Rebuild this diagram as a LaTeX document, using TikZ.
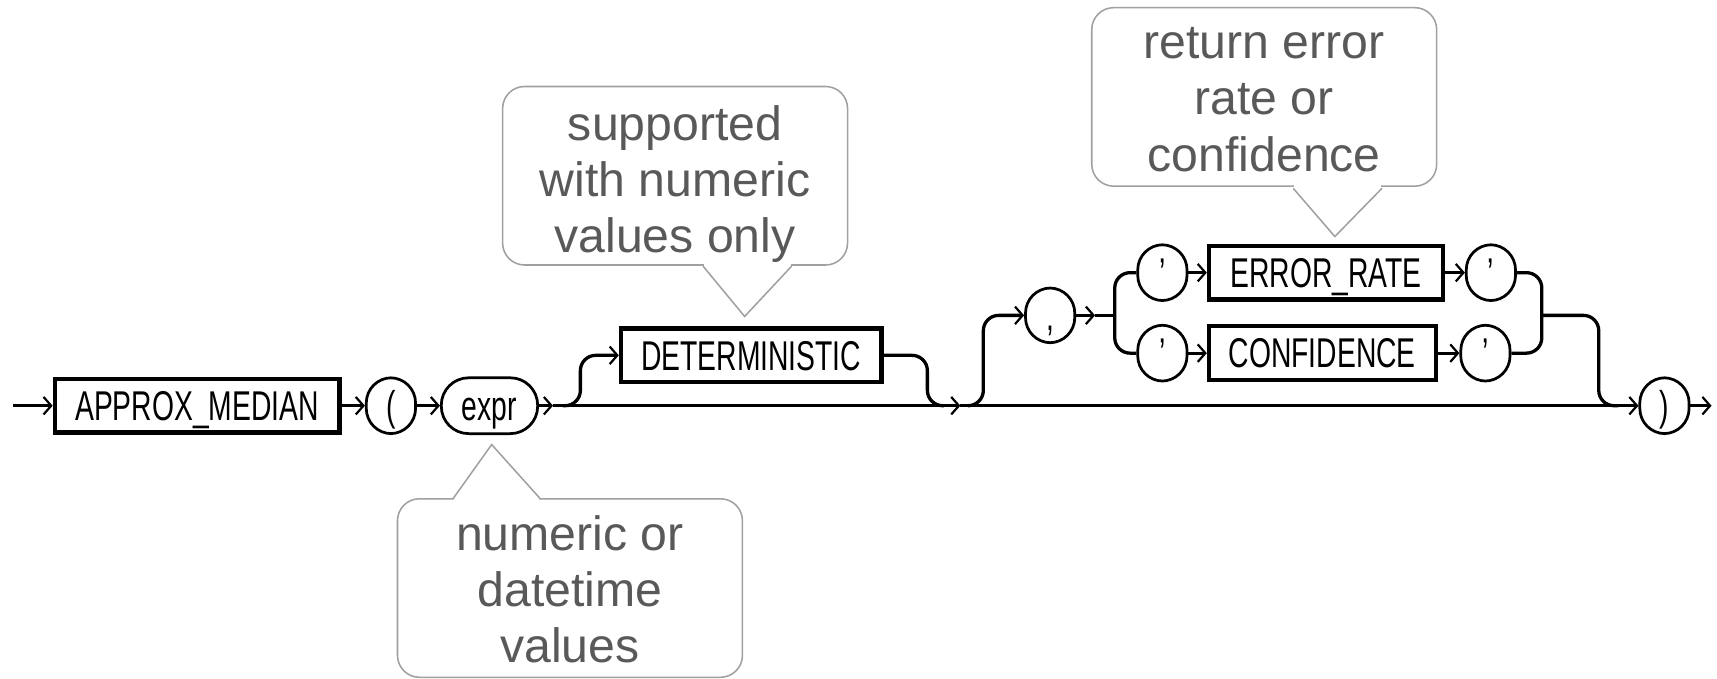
\documentclass[tikz,border=0pt]{standalone}
\usepackage{fontspec}
\setmainfont{Liberation Sans}
\newfontfamily\railfont[FakeStretch=0.68]{Liberation Sans}
\usetikzlibrary{arrows.meta}
\definecolor{notetext}{RGB}{89,89,89}
\definecolor{noteline}{RGB}{160,160,160}
\begin{document}
\begin{tikzpicture}[x=1pt,y=-1pt,
  rail/.style={line width=3pt},
  arr/.style={rail,-{Straight Barb[length=7pt,width=16pt,line width=2pt]}},
  railtext/.style={font=\railfont\fontsize{38}{40}\selectfont,text height=27pt,text depth=0pt,inner sep=0pt},
  kw/.style={railtext,draw,line width=3.8pt,minimum height=49pt},
  tok/.style={railtext,draw,line width=2.5pt,rounded corners=23pt,minimum width=45pt,minimum height=51pt},
  note/.style={draw=noteline,line width=1.4pt,rounded corners=20pt,fill=white,minimum width=315pt,minimum height=163pt,inner sep=0pt},
  notetxt/.style={text=notetext,font=\fontsize{44}{51}\selectfont,align=center,inner sep=0pt},
  pointer/.style={draw=noteline,line width=1.4pt,line join=miter}
]
\useasboundingbox (0,0) rectangle (1568,620);

% --- syntax elements ---
\node[kw,minimum width=260pt] (approx) at (180,370.5) {APPROX\_MEDIAN};
\node[tok] (lparen) at (357,370.5) {(};
\node[tok,rounded corners=25pt,minimum width=88pt] (expr) at (447,370.5) {expr};
\node[kw,minimum width=238pt] (determ) at (686,324.5) {DETERMINISTIC};
\node[tok,minimum height=50pt] (comma) at (959,288) {,};
\node[tok] (q1) at (1061.5,249) {’};
\node[kw,minimum width=214pt] (errrate) at (1211,249) {ERROR\_RATE};
\node[tok] (q2) at (1361.5,249) {’};
\node[tok] (q3) at (1061.5,322.5) {’};
\node[kw,minimum width=207pt] (confid) at (1207.5,322.5) {CONFIDENCE};
\node[tok] (q4) at (1356.5,322.5) {’};
\node[tok] (rparen) at (1520,370.5) {)};

% --- points on the rails ---
\coordinate (start)  at (12,370.5);
\coordinate (m1)     at (505,370.5);
\coordinate (din)    at (514,370.5);
\coordinate (dout)   at (862,370.5);
\coordinate (m2)     at (877,370.5);
\coordinate (cin)    at (884,370.5);
\coordinate (cmid)   at (1000,288);
\coordinate (split)  at (1018,288);
\coordinate (join)   at (1408,288);
\coordinate (rin)    at (1478,370.5);
\coordinate (finish) at (1563,370.5);

% --- main rail ---
\draw[arr] (start) -- (approx.west);
\draw[arr] (approx.east) -- (lparen.west);
\draw[arr] (lparen.east) -- (expr.west);
\draw[arr] (expr.east) -- (m1);
\draw[arr] (m1) -- (m2);
\draw[arr] (m2) -- (rparen.west);
\draw[arr] (rparen.east) -- (finish);

% --- optional DETERMINISTIC ---
\draw[arr,rounded corners=14pt] (din) -| ++(16,-46) -- (determ.west);
\draw[rail,rounded corners=14pt] (determ.east) -| ++(40,46) -- (dout);

% --- optional , 'ERROR_RATE' | 'CONFIDENCE' ---
\draw[arr,rounded corners=14pt] (cin) -| ++(14,-82.5) -- (comma.west);
\draw[arr] (comma.east) -- (cmid);
\draw[rail] (cmid) -- (split);
\draw[rail,rounded corners=14pt] (q1.west) -| (split) |- (q3.west);
\draw[arr] (q1.east) -- (errrate.west);
\draw[arr] (errrate.east) -- (q2.west);
\draw[arr] (q3.east) -- (confid.west);
\draw[arr] (confid.east) -- (q4.west);
\draw[rail,rounded corners=14pt] (q2.east) -| (join) |- (q4.east);
\draw[rail,rounded corners=14pt] (join) -| ++(52,82.5) -- (rin);

% --- notes ---
\node[note] (n1box) at (616.5,160.5) {};
\fill[white] (643,240) rectangle (722,246);
\draw[pointer] (642,243) -- (680,289) -- (723,243);
\node[notetxt] (n1) at (616.5,168) {supported\\with numeric\\values only};

\node[note] (n2box) at (520.5,537) {};
\fill[white] (415,452) rectangle (492,458);
\draw[pointer] (414,455) -- (449,406) -- (493,455);
\node[notetxt] (n2) at (520.5,538) {numeric or\\datetime\\values};

\node[note] (n3box) at (1154.5,88.5) {};
\fill[white] (1182,169) rectangle (1261,175);
\draw[pointer] (1181,172) -- (1219,216) -- (1262,172);
\node[notetxt,font=\fontsize{44}{52}\selectfont] (n3) at (1154.5,91) {return error\\rate or\\confidence};
\end{tikzpicture}
\end{document}
